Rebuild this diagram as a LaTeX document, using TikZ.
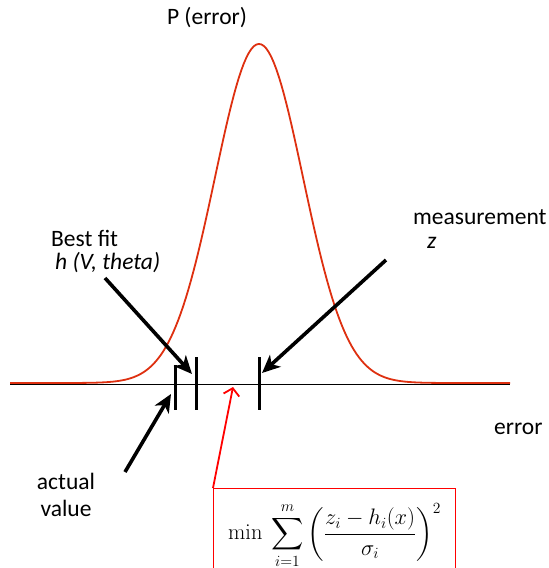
\documentclass[tikz,border=0pt]{standalone}
\usepackage{amsmath}
\usepackage{graphicx}
\usepackage[no-math]{fontspec}
\setmainfont{Carlito}
\usetikzlibrary{arrows.meta}
\definecolor{curvered}{RGB}{222,48,16}
\tikzset{
  lbl/.style={inner sep=0pt, font=\fontsize{23.5}{27}\selectfont},
  bigarrow/.style={line width=3.6pt, -{Stealth[length=18pt,width=16pt,inset=5pt]}},
  tick/.style={line width=3pt},
}
\begin{document}
\begin{tikzpicture}[x=1pt,y=-1pt]
\useasboundingbox (0,0) rectangle (549,568);
\draw[line width=1pt] (10,384) -- (510,384); % error axis
\draw[curvered, line width=1.8pt] plot[domain=10:510, samples=200]
  (\x, {383 - 339*exp(-0.5*((\x-259)/44)^2)}); % gaussian
\draw[tick] (175,365) -- (175,410);
\draw[tick] (196,357) -- (196,410);
\draw[tick] (259,357) -- (259,410);

\node[lbl] (perr) at (207,18) {P (error)};
\node[lbl, anchor=west] (best) at (51,238) {Best fit};
\node[lbl, anchor=west] (hfit) at (55,263) {\itshape h (V, theta)};
\node[lbl, anchor=west] (meas) at (413,217) {measurement};
\node[lbl, anchor=west] (zlab) at (427,243) {\itshape z};
\node[lbl, anchor=west] (err) at (494,429) {error};
\node[lbl, align=center, font=\fontsize{23.5}{27}\selectfont] (actual) at (66,495) {actual\\value};

\node[draw=red, line width=1.2pt, anchor=north west, minimum width=242pt,
  minimum height=94pt, inner sep=2pt, font=\fontsize{20.74}{25}\selectfont] (formula) at (213,488)
  {\scalebox{1.08}{$\displaystyle \min\ \sum_{i=1}^{m}\left(\frac{z_i-h_i(x)}{\sigma_i}\right)^2$}};

\coordinate (fittail) at (105,278);
\coordinate (fittip) at (192,374);
\coordinate (meastail) at (386,260);
\coordinate (meastip) at (262,373);
\coordinate (acttail) at (125,472);
\coordinate (acttip) at (171,394);
\coordinate (mintip) at (233,387);

\draw[bigarrow] (fittail) -- (fittip);
\draw[bigarrow] (meastail) -- (meastip);
\draw[bigarrow] (acttail) -- (acttip);
\draw[red, line width=1.8pt, -{Straight Barb[length=7pt,width=16pt]}] (formula.north west) -- (mintip);
\end{tikzpicture}
\end{document}
